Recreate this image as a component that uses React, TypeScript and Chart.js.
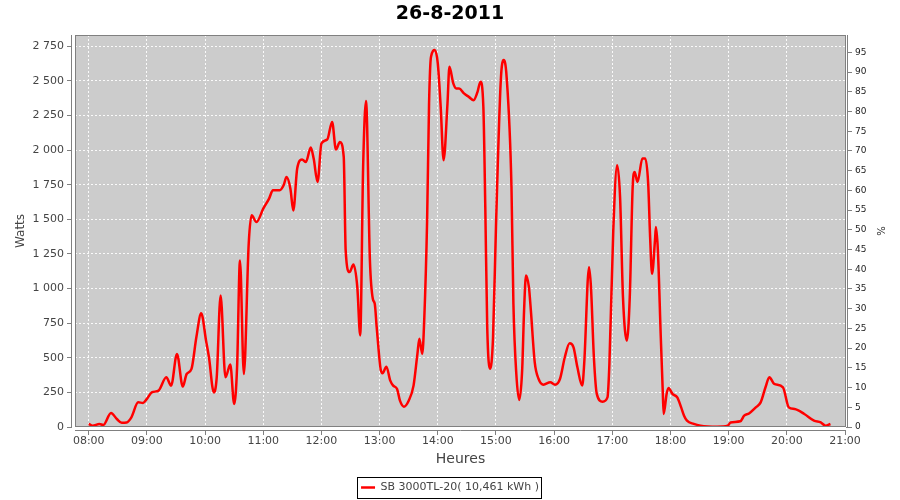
import React, { useEffect, useRef } from 'react';
import { Chart, registerables } from 'chart.js';

Chart.register(...registerables);

const chartTitle = '26-8-2011';
const seriesLabel = 'SB 3000TL-20( 10,461 kWh )';
const xAxisTitle = 'Heures';
const leftAxisTitle = 'Watts';
const rightAxisTitle = '%';

const times = [
  '08:00', '08:04', '08:11', '08:15', '08:23', '08:29', '08:34', '08:39', '08:44', '08:51',
  '08:56', '09:00', '09:05', '09:12', '09:20', '09:25', '09:31', '09:37', '09:41', '09:46',
  '09:51', '09:56', '10:01', '10:04', '10:09', '10:12', '10:16', '10:21', '10:26', '10:30',
  '10:33', '10:36', '10:40', '10:45', '10:48', '10:53', '11:00', '11:06', '11:10', '11:17',
  '11:21', '11:24', '11:28', '11:31', '11:35', '11:40', '11:44', '11:49', '11:52', '11:56',
  '12:00', '12:06', '12:11', '12:15', '12:19', '12:23', '12:25', '12:29', '12:33', '12:37',
  '12:40', '12:43', '12:46', '12:50', '12:53', '12:55', '12:57', '13:01', '13:03', '13:07',
  '13:11', '13:14', '13:18', '13:21', '13:25', '13:30', '13:35', '13:39', '13:41', '13:44',
  '13:46', '13:49', '13:51', '13:53', '13:57', '14:00', '14:03', '14:06', '14:10', '14:12',
  '14:16', '14:19', '14:22', '14:27', '14:32', '14:37', '14:41', '14:44', '14:47', '14:49',
  '14:51', '14:54', '14:57', '15:00', '15:05', '15:08', '15:11', '15:16', '15:18', '15:21',
  '15:24', '15:27', '15:29', '15:31', '15:34', '15:36', '15:40', '15:44', '15:49', '15:56',
  '16:01', '16:06', '16:11', '16:16', '16:20', '16:24', '16:29', '16:31', '16:36', '16:38',
  '16:41', '16:44', '16:50', '16:55', '16:57', '17:01', '17:05', '17:08', '17:11', '17:15',
  '17:18', '17:21', '17:23', '17:26', '17:31', '17:34', '17:37', '17:39', '17:41', '17:44',
  '17:45', '17:47', '17:50', '17:52', '17:53', '17:56', '17:58', '18:02', '18:07', '18:11',
  '18:14', '18:17', '18:24', '18:31', '18:48', '18:59', '19:02', '19:12', '19:16', '19:21',
  '19:28', '19:33', '19:38', '19:42', '19:47', '19:56', '20:02', '20:08', '20:18', '20:28',
  '20:35', '20:40', '20:45',
];

const watts = [
  22, 9, 22, 14, 101, 58, 31, 33, 70, 178,
  174, 203, 250, 263, 359, 299, 528, 292, 383, 420,
  648, 822, 624, 504, 250, 359, 950, 359, 451, 166,
  431, 1203, 383, 1324, 1529, 1481, 1577, 1650, 1710, 1710,
  1746, 1806, 1722, 1565, 1867, 1932, 1915, 2019, 1939, 1770,
  2048, 2077, 2204, 2004, 2059, 1951, 1276, 1119, 1174, 1010,
  661, 1878, 2355, 1203, 926, 890, 721, 420, 388, 436,
  335, 299, 275, 190, 147, 190, 299, 528, 637, 528,
  769, 1493, 2337, 2674, 2723, 2627, 2313, 1927, 2337, 2602,
  2482, 2446, 2446, 2410, 2385, 2361, 2421, 2494, 2313, 1589,
  721, 420, 648, 1444, 2506, 2651, 2530, 1734, 890, 383,
  195, 407, 842, 1095, 1010, 842, 467, 347, 306, 323,
  306, 347, 504, 605, 576, 431, 299, 456, 1155, 1010,
  504, 239, 183, 214, 456, 1420, 1891, 1661, 938, 624,
  938, 1734, 1842, 1770, 1939, 1939, 1758, 1372, 1107, 1348,
  1444, 1276, 648, 263, 94, 239, 282, 239, 214, 142,
  82, 46, 22, 9, 2, 9, 33, 41, 82, 98,
  142, 178, 287, 359, 311, 287, 142, 130, 94, 46,
  33, 9, 22,
];

const hourTicks = [8, 9, 10, 11, 12, 13, 14, 15, 16, 17, 18, 19, 20, 21];
const wattTicks = [0, 250, 500, 750, 1000, 1250, 1500, 1750, 2000, 2250, 2500, 2750];
const percentTicks = [0, 5, 10, 15, 20, 25, 30, 35, 40, 45, 50, 55, 60, 65, 70, 75, 80, 85, 90, 95];

const FONT = "'DejaVu Sans', sans-serif";

function toHours(t: string): number {
  const [h, m] = t.split(':').map(Number);
  return h + m / 60;
}
function fmtHour(v: number): string {
  return String(Math.round(v)).padStart(2, '0') + ':00';
}
function fmtWatts(v: number): string {
  const s = String(Math.round(v));
  return s.length > 3 ? s.slice(0, -3) + ' ' + s.slice(-3) : s;
}

const plotDecor = {
  id: 'plotDecor',
  beforeDraw(chart: any) {
    const { ctx, chartArea: a } = chart;
    ctx.save();
    ctx.fillStyle = '#ffffff';
    ctx.fillRect(0, 0, chart.width, chart.height);
    ctx.fillStyle = '#cccccc';
    ctx.fillRect(a.left, a.top, a.right - a.left, a.bottom - a.top);
    ctx.restore();
  },
  afterDraw(chart: any) {
    const { ctx, chartArea: a } = chart;
    const L = Math.round(a.left);
    const R = Math.round(a.right);
    const T = Math.round(a.top);
    const B = Math.round(a.bottom);
    ctx.save();
    // gaps between plot and axis lines
    ctx.fillStyle = '#ffffff';
    ctx.fillRect(L - 3, T, 3, B - T + 3);
    ctx.fillRect(L - 3, B, R - L + 3, 3);
    ctx.fillRect(R, T, 1, B - T);
    // plot outline
    ctx.strokeStyle = '#808080';
    ctx.lineWidth = 1;
    ctx.strokeRect(L + 0.5, T + 0.5, R - L - 1, B - T - 1);
    // axis lines
    ctx.beginPath();
    ctx.moveTo(L - 3.5, T);
    ctx.lineTo(L - 3.5, B);
    ctx.moveTo(L, B + 3.5);
    ctx.lineTo(R, B + 3.5);
    ctx.moveTo(R + 1.5, T);
    ctx.lineTo(R + 1.5, B);
    ctx.stroke();
    // legend frame
    const lg = chart.legend;
    if (lg && lg.legendHitBoxes && lg.legendHitBoxes.length) {
      const hb = lg.legendHitBoxes[0];
      const cy = hb.top + hb.height / 2;
      ctx.strokeStyle = '#000000';
      ctx.strokeRect(Math.round(hb.left - 4) + 0.5, Math.round(cy - 10.5) + 0.5, Math.round(hb.width + 6), 21);
    }
    ctx.restore();
  },
};

export default function App() {
  const ref = useRef<HTMLCanvasElement>(null);

  useEffect(() => {
    const prevMargin = document.body.style.margin;
    document.body.style.margin = '0';
    const canvas = ref.current!;
    const data = times.map((t, i) => ({ x: toHours(t), y: watts[i] }));

    const chart = new Chart(canvas, {
      type: 'line',
      data: {
        datasets: [
          {
            label: seriesLabel,
            data,
            borderColor: '#ff0000',
            backgroundColor: '#ff0000',
            borderWidth: 2.5,
            pointRadius: 0,
            cubicInterpolationMode: 'monotone',
            fill: false,
            xAxisID: 'x',
            yAxisID: 'y',
          } as any,
        ],
      },
      options: {
        responsive: false,
        animation: false,
        events: [],
        layout: { padding: { left: 0, right: 0, top: 0, bottom: -3 } },
        plugins: {
          title: {
            display: true,
            text: chartTitle,
            color: '#000000',
            font: { family: FONT, size: 19, weight: 'bold' },
            padding: { top: 3, bottom: 9.2 },
          },
          legend: {
            display: true,
            position: 'bottom',
            labels: {
              usePointStyle: true,
              pointStyle: 'line',
              pointStyleWidth: 14,
              color: '#444444',
              padding: 11,
              font: { family: FONT, size: 11 },
            },
          },
          tooltip: { enabled: false },
        },
        scales: {
          x: {
            type: 'linear',
            position: 'bottom',
            min: 7.764,
            max: 21.017,
            afterBuildTicks: (s: any) => {
              s.ticks = hourTicks.map((v) => ({ value: v }));
            },
            afterFit: (s: any) => {
              s.height = 44;
            },
            ticks: {
              color: '#444444',
              font: { family: FONT, size: 11 },
              padding: 0,
              maxRotation: 0,
              autoSkip: false,
              callback: (v: any) => fmtHour(Number(v)),
            },
            grid: {
              color: 'rgba(255,255,255,0.9)',
              lineWidth: 1,
              tickLength: 8,
              tickColor: '#808080',
              tickWidth: 1,
            },
            border: { display: false, dash: [2, 2] },
            title: {
              display: true,
              text: xAxisTitle,
              color: '#444444',
              font: { family: FONT, size: 14 },
              padding: { top: 0, bottom: 3 },
            },
          },
          y: {
            type: 'linear',
            position: 'left',
            min: 0,
            max: 2832,
            afterBuildTicks: (s: any) => {
              s.ticks = wattTicks.map((v) => ({ value: v }));
            },
            afterFit: (s: any) => {
              s.width = 75;
            },
            ticks: {
              color: '#444444',
              font: { family: FONT, size: 11 },
              padding: 3,
              callback: (v: any) => fmtWatts(Number(v)),
            },
            grid: {
              color: 'rgba(255,255,255,0.9)',
              lineWidth: 1,
              tickLength: 8,
              tickColor: '#808080',
              tickWidth: 1,
            },
            border: { display: false, dash: [2, 2] },
            title: {
              display: true,
              text: leftAxisTitle,
              color: '#444444',
              font: { family: FONT, size: 12 },
              padding: { top: 14, bottom: 0 },
            },
          },
          y1: {
            type: 'linear',
            position: 'right',
            display: true,
            min: 0,
            max: 99.4,
            afterBuildTicks: (s: any) => {
              s.ticks = percentTicks.map((v) => ({ value: v }));
            },
            afterFit: (s: any) => {
              s.width = 54;
            },
            ticks: {
              color: '#222222',
              font: { family: FONT, size: 9 },
              padding: 3,
              callback: (v: any) => String(v),
            },
            grid: {
              drawOnChartArea: false,
              tickLength: 6,
              tickColor: '#808080',
              tickWidth: 1,
            },
            border: { display: false },
            title: {
              display: true,
              text: rightAxisTitle,
              color: '#222222',
              font: { family: FONT, size: 10 },
              padding: { top: 14, bottom: 0 },
            },
          },
        },
      } as any,
      plugins: [plotDecor],
    });

    return () => {
      chart.destroy();
      document.body.style.margin = prevMargin;
    };
  }, []);

  return (
    <div style={{ width: 900, height: 500, position: 'relative' }}>
      <canvas ref={ref} width={900} height={500} style={{ display: 'block' }} />
    </div>
  );
}
